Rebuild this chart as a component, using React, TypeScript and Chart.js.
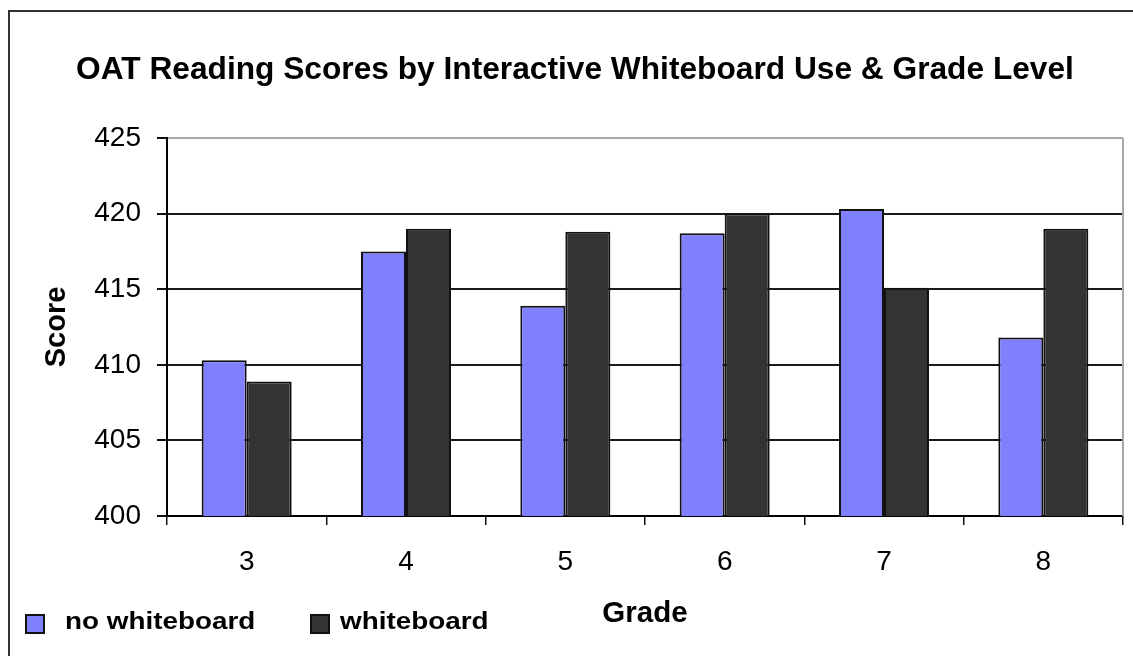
import React, { useEffect, useRef } from "react";
import { Chart, registerables } from "chart.js";

Chart.register(...registerables);

const grades = ["3", "4", "5", "6", "7", "8"];
const noWhiteboard = [410.3, 417.5, 413.9, 418.7, 420.3, 411.8];
const whiteboard = [408.9, 419.0, 418.8, 420.0, 415.1, 419.0];
const yTicks = [400, 405, 410, 415, 420, 425];
const seriesLabels = ["no whiteboard", "whiteboard"];
const titleText = "OAT Reading Scores by Interactive Whiteboard Use & Grade Level";

const FONT = "'Liberation Sans', Arial, sans-serif";
const BLUE = "#8080FF";
const DARK = "#333333";
const EDGE = "#111111";

const decorPlugin = {
  id: "decor",
  afterDraw(chart: any) {
    const { ctx, chartArea } = chart;
    ctx.save();
    // plot area right border (grey)
    ctx.strokeStyle = "#a8a8a8";
    ctx.lineWidth = 2;
    ctx.beginPath();
    ctx.moveTo(chartArea.right, chartArea.top);
    ctx.lineTo(chartArea.right, chartArea.bottom);
    ctx.stroke();

    // title
    ctx.fillStyle = "#000";
    ctx.font = `bold 31.7px ${FONT}`;
    ctx.textAlign = "center";
    ctx.textBaseline = "alphabetic";
    ctx.fillText(titleText, 575, 79);

    // legend
    const xs = [[26, 65], [311, 340]];
    chart.data.datasets.forEach((ds: any, i: number) => {
      const [bx, tx] = xs[i];
      ctx.fillStyle = ds.backgroundColor;
      ctx.fillRect(bx, 615, 18, 18);
      ctx.strokeStyle = EDGE;
      ctx.lineWidth = 2;
      ctx.strokeRect(bx, 615, 18, 18);
      ctx.save();
      ctx.translate(tx, 629);
      ctx.scale(1.16, 1);
      ctx.fillStyle = "#000";
      ctx.font = `bold 24px ${FONT}`;
      ctx.textAlign = "left";
      ctx.fillText(ds.label, 0, 0);
      ctx.restore();
    });
    ctx.restore();
  },
};

export default function App() {
  const canvasRef = useRef<HTMLCanvasElement | null>(null);

  useEffect(() => {
    const canvas = canvasRef.current;
    if (!canvas) return;
    const chart = new Chart(canvas, {
      type: "bar",
      data: {
        labels: grades,
        datasets: [
          {
            label: seriesLabels[0],
            data: noWhiteboard,
            backgroundColor: BLUE,
            borderColor: EDGE,
            borderWidth: 2,
            categoryPercentage: 0.565,
            barPercentage: 1.0,
          },
          {
            label: seriesLabels[1],
            data: whiteboard,
            backgroundColor: DARK,
            borderColor: EDGE,
            borderWidth: 2,
            categoryPercentage: 0.565,
            barPercentage: 1.0,
          },
        ],
      },
      options: {
        responsive: false,
        animation: false,
        maintainAspectRatio: false,
        layout: { padding: { top: 138, right: 10, bottom: 0, left: 0 } },
        plugins: {
          legend: { display: false },
          title: { display: false },
          tooltip: { enabled: false },
        },
        scales: {
          x: {
            afterFit(scale: any) {
              scale.height = 140;
            },
            grid: {
              display: true,
              drawOnChartArea: false,
              drawTicks: true,
              tickLength: 9,
              tickColor: "#111",
              lineWidth: 1.5,
            },
            border: { display: true, color: "#000", width: 2 },
            ticks: {
              color: "#000",
              font: { family: FONT, size: 28 },
              padding: 20,
              maxRotation: 0,
            },
            title: {
              display: true,
              text: "Grade",
              color: "#000",
              font: { family: FONT, size: 29.5, weight: "bold" },
              padding: { top: 0, bottom: 24 },
            },
          },
          y: {
            min: 400,
            max: 425,
            afterFit(scale: any) {
              scale.width = 167;
            },
            afterBuildTicks(scale: any) {
              scale.ticks = yTicks.map((v) => ({ value: v }));
            },
            grid: {
              color: (c: any) => (c.tick && c.tick.value === 425 ? "#a8a8a8" : "#1a1a1a"),
              tickColor: "#111",
              lineWidth: 2,
              tickLength: 10,
              drawTicks: true,
            },
            border: { display: true, color: "#000", width: 2 },
            ticks: {
              color: "#000",
              font: { family: FONT, size: 28 },
              padding: 16,
            },
            title: {
              display: true,
              text: "Score",
              color: "#000",
              font: { family: FONT, size: 29, weight: "bold" },
              padding: { top: 40, bottom: 0 },
            },
          },
        },
      },
      plugins: [decorPlugin],
    });
    return () => chart.destroy();
  }, []);

  return (
    <div
      style={{
        position: "fixed",
        left: 0,
        top: 0,
        width: 1133,
        height: 656,
        overflow: "hidden",
        background: "#fff",
      }}
    >
      <div
        style={{
          position: "absolute",
          left: 8,
          top: 10,
          width: 1200,
          height: 700,
          border: "2px solid #333",
        }}
      />
      <canvas
        ref={canvasRef}
        width={1133}
        height={656}
        style={{ position: "absolute", left: 0, top: 0, width: 1133, height: 656 }}
      />
    </div>
  );
}
